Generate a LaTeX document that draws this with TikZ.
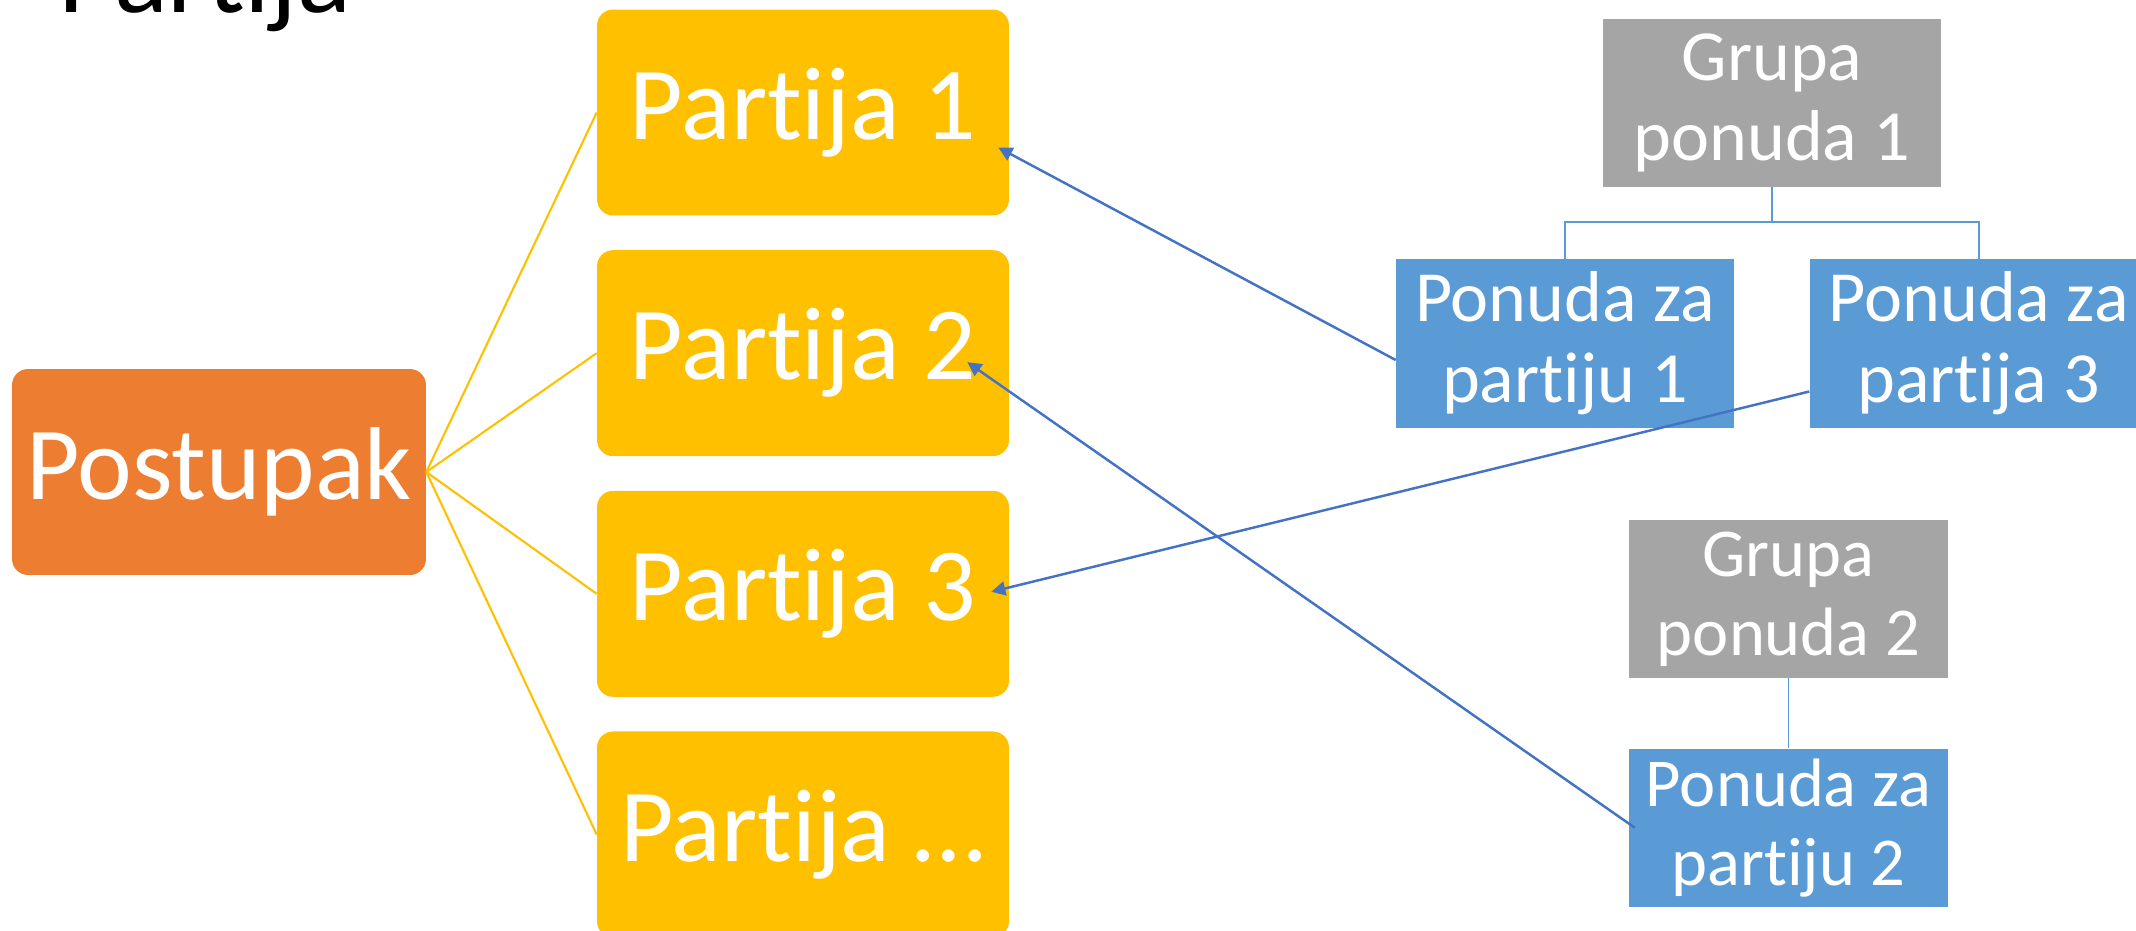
\documentclass[tikz,border=0pt]{standalone}
\usepackage{fontspec}
\setmainfont{Carlito}[Ligatures=NoCommon]
\usepackage{xcolor}
\usepackage{tikz}
\usetikzlibrary{positioning,calc,arrows.meta}
\definecolor{LotOrange}{RGB}{237,125,49}
\definecolor{LotYellow}{RGB}{255,192,0}

\begin{document}
\begin{tikzpicture}[
					x=0.02cm, y=-0.02cm,
					node distance=0.68cm
					]
					\definecolor{offgray}{RGB}{165,165,165}
					\definecolor{offblue}{RGB}{91,155,213}
					\definecolor{linkblue}{RGB}{68,114,196}
					\tikzset{
						rootbox/.style={
							shape=rectangle,
							rounded corners=0.32cm,
							fill=LotOrange,
							minimum width=8.28cm,
							minimum height=4.12cm,
							inner sep=0pt,
							font=\fontsize{59}{66}\selectfont,
							text=white
						},
						lotbox/.style={
							shape=rectangle,
							rounded corners=0.32cm,
							fill=LotYellow,
							minimum width=8.24cm,
							minimum height=4.12cm,
							inner sep=0pt,
							font=\fontsize{59}{66}\selectfont,
							text=white
						},
						groupbox/.style={
							shape=rectangle,
							fill=offgray,
							minimum width=6.76cm,
							minimum height=3.36cm,
							inner sep=0pt,
							align=center,
							font=\fontsize{41}{46}\selectfont,
							text=white
						},
						offerbox/.style={groupbox, fill=offblue, minimum height=3.38cm},
						lotedge/.style={draw=LotYellow, line width=1.2pt},
						treeedge/.style={draw=offblue, line width=1pt},
						linkedge/.style={draw=linkblue, line width=1.4pt, -{Triangle[length=8pt,width=8pt]}}
					}
					\useasboundingbox (0,0) rectangle (2136,930);
					
					% naslov
					\node[anchor=base west, inner sep=0pt, font=\fontsize{64}{70}\selectfont] (title) at (58,12) {Partija};
					
					% postupak i partije
					\node[rootbox] (post) at (219,472) {Postupak};
					\node[lotbox] (part1) at (803,112.5) {Partija 1};
					\node[lotbox, below=of part1] (part2) {Partija 2};
					\node[lotbox, below=of part2] (part3) {Partija 3};
					\node[lotbox, below=of part3] (partx) {Partija \dots};
					
					\draw[lotedge] (post.east) -- (part1.west);
					\draw[lotedge] (post.east) -- (part2.west);
					\draw[lotedge] (post.east) -- (part3.west);
					\draw[lotedge] (post.east) -- (partx.west);
					
					% grupe ponuda
					\node[groupbox] (grp1) at (1772,103) {Grupa\\ponuda 1};
					\node[offerbox] (off1) at (1565,343.5) {Ponuda za\\partiju 1};
					\node[offerbox, right=1.5cm of off1] (off3) {Ponuda za\\partija 3};
					\node[groupbox, minimum width=6.38cm, minimum height=3.16cm, font=\fontsize{39}{45}\selectfont] (grp2) at (1788.5,599) {Grupa\\ponuda 2};
					\node[offerbox, minimum width=6.38cm, minimum height=3.16cm, font=\fontsize{39}{45}\selectfont, below=1.4cm of grp2] (off2) {Ponuda za\\partiju 2};
					
					\draw[treeedge] (grp1.south) -- ++(0,35) -| (off1.north);
					\draw[treeedge] (grp1.south) -- ++(0,35) -| (off3.north);
					\draw[treeedge] (grp2.south) -- (off2.north);
					
					% veze ponuda sa partijama
					\draw[linkedge] ($(off1.west)+(0,16.5)$) -- ($(part1.east)+(-11,35)$);
					\draw[linkedge] ($(off2.west)+(6,0)$) -- ($(part2.east)+(-42,9)$);
					\draw[linkedge] ($(off3.west)+(0,48)$) -- ($(part3.east)+(-18,-2)$);
				\end{tikzpicture}
\end{document}
